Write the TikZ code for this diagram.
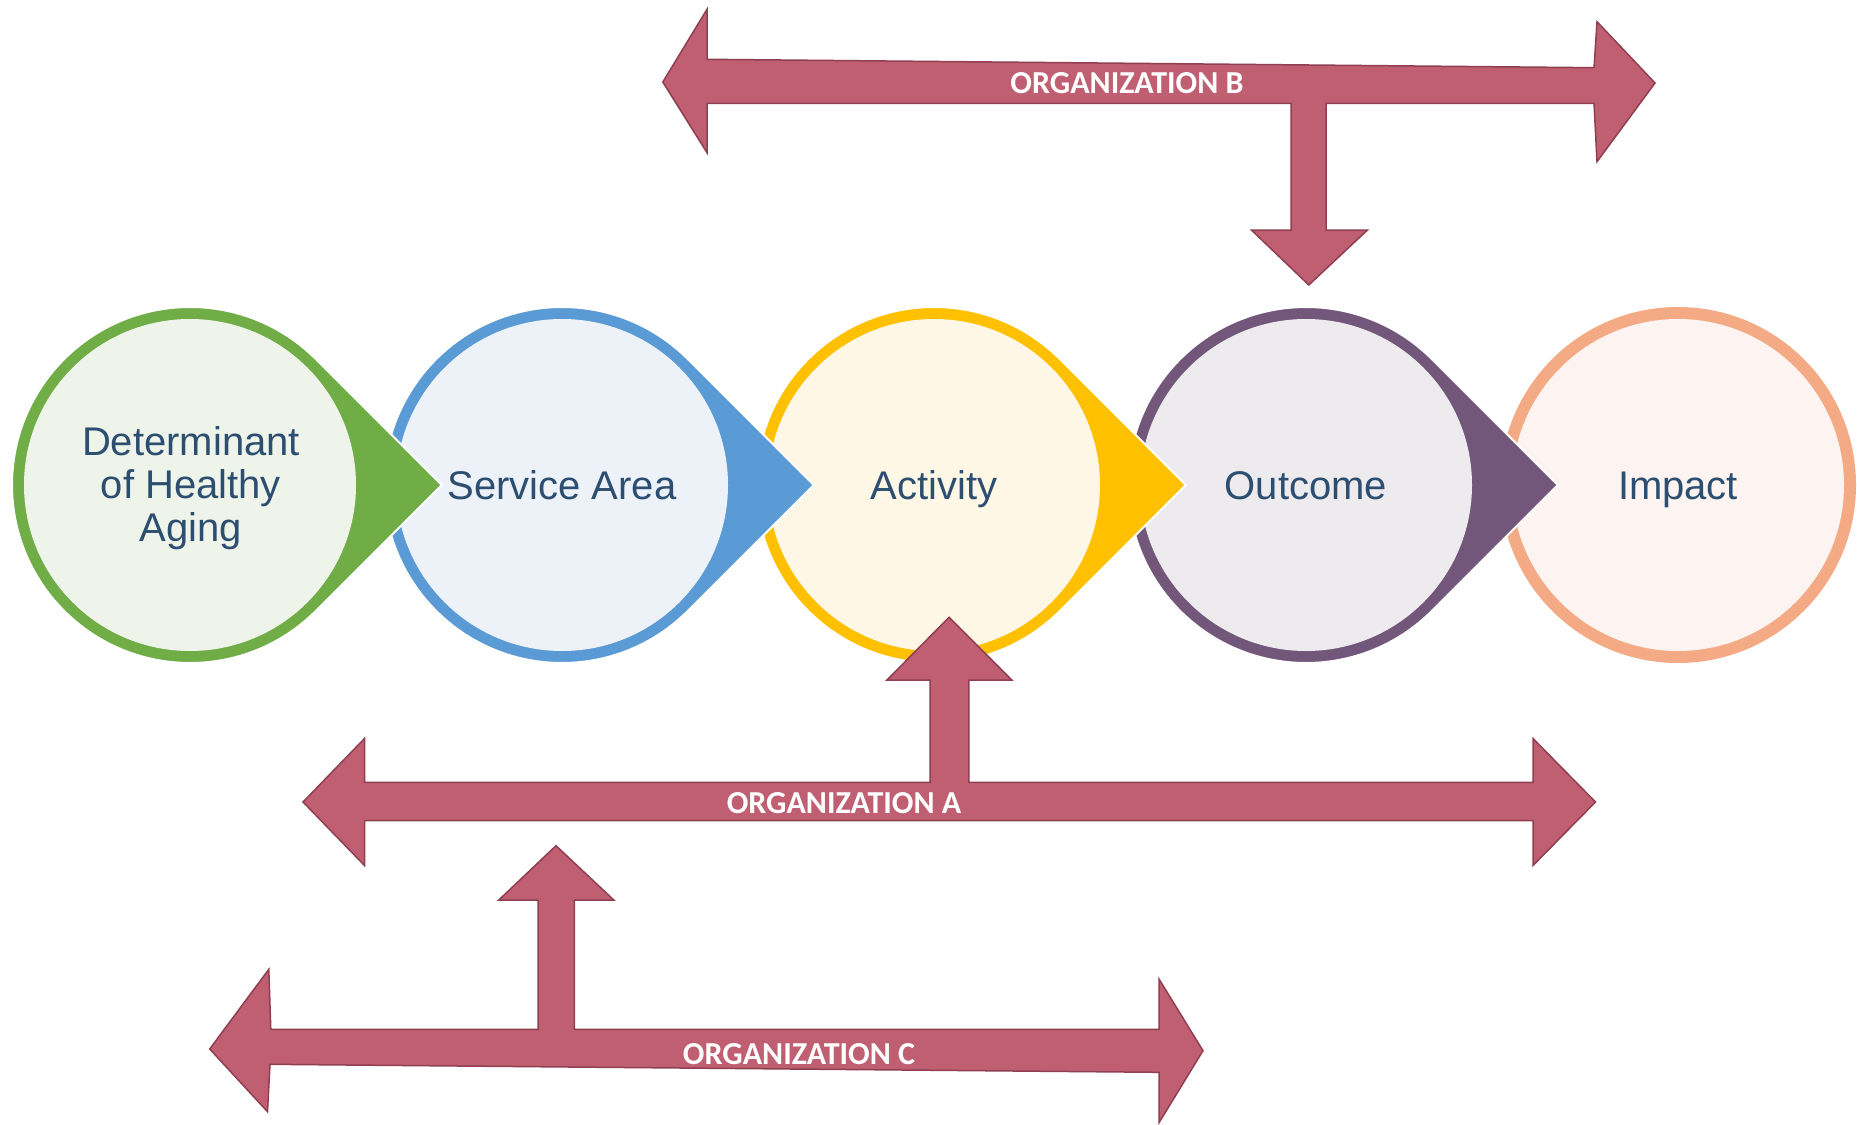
\documentclass[tikz,border=0pt]{standalone}
\usepackage{fontspec}
\setmainfont{Liberation Sans}
\newfontfamily\orgfont{Carlito}
\definecolor{cgreen}{HTML}{70AD47}\definecolor{lgreen}{HTML}{EEF4EA}
\definecolor{cblue}{HTML}{5B9BD5}\definecolor{lblue}{HTML}{EDF2F9}
\definecolor{cgold}{HTML}{FFC000}\definecolor{lgold}{HTML}{FFF7E6}
\definecolor{cpurple}{HTML}{72577B}\definecolor{lpurple}{HTML}{EEEBEF}
\definecolor{cpeach}{HTML}{F4AB85}\definecolor{lpeach}{HTML}{FDF4F1}
\definecolor{arrfill}{HTML}{C15F72}\definecolor{arrline}{HTML}{8F3F51}
\definecolor{txt}{HTML}{2C4E70}
\tikzset{
  drop/.style={fill=#1, draw=white, line width=2},
  inner/.style={fill=#1},
  stagetext/.style={text=txt, font=\fontsize{40}{43}\selectfont, align=center, inner sep=0, anchor=base},
  orgarrow/.style={fill=arrfill, draw=arrline, line width=1.5, line join=miter},
  orgtext/.style={text=white, font=\orgfont\bfseries\fontsize{32}{34}\selectfont, inner sep=0}
}
\newcommand{\stagedrop}[3]{%
  \path[drop=#2] (#1,485) ++(45:178) arc[start angle=45, end angle=315, radius=178] -- (#1+251.73,485) -- cycle;
  \fill[inner=#3] (#1,485) circle[radius=166];
}
\begin{document}
\begin{tikzpicture}[x=1pt,y=-1pt]
\useasboundingbox (0,0) rectangle (1857,1124);
% stages, drawn right to left so each tip lies over the next ring
\fill[cpeach] (1678,485) circle[radius=178];
\fill[inner=lpeach] (1678,485) circle[radius=166];
\stagedrop{1306}{cpurple}{lpurple}
\stagedrop{934}{cgold}{lgold}
\stagedrop{562}{cblue}{lblue}
\stagedrop{190}{cgreen}{lgreen}
\node[stagetext] (det) at (191,541) {Determinant\\of Healthy\\Aging};
\node[stagetext] (serv) at (562,499) {Service Area};
\node[stagetext] (act) at (934,499) {Activity};
\node[stagetext] (out) at (1306,499) {Outcome};
\node[stagetext] (imp) at (1678,499) {Impact};
% Organization B
\draw[orgarrow] (662.8,82) -- (707,9.3) -- (707,59.3) -- (1594,67.7) -- (1597,21.7) -- (1655,83)
  -- (1597,161.7) -- (1594,103.3) -- (1326,103.3) -- (1326,230) -- (1367.5,230) -- (1308.8,285)
  -- (1251.4,230) -- (1291,230) -- (1291,103.3) -- (707,103.3) -- (707,152.7) -- cycle;
\node[orgtext] (orgB) at (1127,83) {ORGANIZATION B};
% Organization A
\draw[orgarrow] (303,802) -- (364.5,738.5) -- (364.5,782.3) -- (930,782.3) -- (930,680) -- (887,680)
  -- (949,617.3) -- (1011.8,680) -- (968.8,680) -- (968.8,782.3) -- (1533,782.3) -- (1533,738.5)
  -- (1595.5,802) -- (1533,865.5) -- (1533,820.7) -- (364.5,820.7) -- (364.5,865.5) -- cycle;
\node[orgtext] (orgA) at (844,803) {ORGANIZATION A};
% Organization C
\draw[orgarrow] (209.7,1049) -- (268.8,969.3) -- (270.8,1029.3) -- (538.2,1029.3) -- (538.2,900)
  -- (498.8,900) -- (556,845.7) -- (613.8,900) -- (574.4,900) -- (574.4,1029.3) -- (1159,1029.3)
  -- (1159,979) -- (1203,1050.7) -- (1159,1122.7) -- (1159,1072.3) -- (270,1064.3) -- (267.5,1111.7) -- cycle;
\node[orgtext] (orgC) at (799,1054) {ORGANIZATION C};
\end{tikzpicture}
\end{document}
